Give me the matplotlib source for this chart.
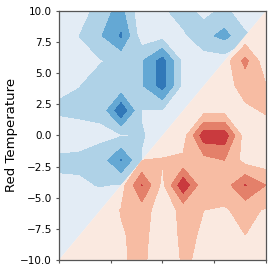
import numpy as np
import matplotlib
matplotlib.use("Agg")
import matplotlib.pyplot as plt
from matplotlib.patches import Polygon

# grid coordinates (same for both axes)
x_vals = [-10, -8, -6, -4, -2, 0, 2, 4, 6, 8, 10]
y_vals = [-10, -8, -6, -4, -2, 0, 2, 4, 6, 8, 10]

# blue field, rows listed from y=10 down to y=-10
blue_rows = [
    [0.3, 0.3, 1.6, 2.3, 0.2, 0.8, 1.5, 0.6, 1.3, 0.2, 0.2],
    [0.3, 1.02, 1.9, 3.1, 0.4, 0.6, 0.8, 1.7, 2.3, 1.2, 0.3],
    [0.2, 0.5, 0.95, 1.2, 1.9, 3.4, 0.7, 0.5, 0.5, 0.3, 0.3],
    [0.8, 0.98, 1.3, 1.2, 1.9, 3.4, 0.7, 0.3, 0.3, 0.3, 0.3],
    [1.15, 1.2, 1.2, 3.8, 0.95, 0.9, 0.3, 0.3, 0.3, 0.3, 0.3],
    [0.4, 0.6, 0.8, 0.9, 1.05, 0.7, 0.3, 0.3, 0.3, 0.3, 0.3],
    [1.2, 1.2, 1.4, 3.05, 0.95, 0.3, 0.3, 0.3, 0.3, 0.3, 0.3],
    [0.8, 0.85, 1.05, 0.9, 0.3, 0.3, 0.3, 0.3, 0.3, 0.3, 0.3],
    [0.3, 0.3, 0.3, 0.3, 0.3, 0.3, 0.3, 0.3, 0.3, 0.3, 0.3],
    [0.3, 0.3, 0.3, 0.3, 0.3, 0.3, 0.3, 0.3, 0.3, 0.3, 0.3],
    [0.3, 0.3, 0.3, 0.3, 0.3, 0.3, 0.3, 0.3, 0.3, 0.3, 0.3],
]

# red field, rows listed from y=10 down to y=-10
red_rows = [
    [0.3, 0.3, 0.3, 0.3, 0.3, 0.3, 0.3, 0.3, 0.3, 0.3, 0.3],
    [0.3, 0.3, 0.3, 0.3, 0.3, 0.3, 0.3, 0.3, 0.3, 0.3, 0.5],
    [0.3, 0.3, 0.3, 0.3, 0.3, 0.3, 0.3, 0.3, 0.5, 2.3, 0.3],
    [0.3, 0.3, 0.3, 0.3, 0.3, 0.3, 0.3, 0.3, 0.6, 1.4, 1.05],
    [0.3, 0.3, 0.3, 0.3, 0.3, 0.3, 0.3, 0.6, 0.6, 0.8, 1.1],
    [0.3, 0.3, 0.3, 0.3, 0.3, 0.5, 0.5, 3.6, 3.6, 0.4, 0.5],
    [0.3, 0.3, 0.3, 0.3, 1.0, 1.05, 1.2, 1.6, 2.0, 0.6, 0.4],
    [0.3, 0.3, 0.3, 0.5, 3.05, 0.7, 3.8, 1.2, 1.5, 3.05, 2.0],
    [0.3, 0.3, 0.3, 1.05, 1.5, 0.4, 1.3, 1.0, 0.9, 1.3, 0.9],
    [0.3, 0.3, 0.3, 0.9, 1.3, 0.4, 1.2, 0.9, 0.5, 1.0, 0.5],
    [0.3, 0.3, 0.4, 0.9, 1.2, 0.4, 1.1, 0.85, 0.5, 0.4, 0.4],
]

levels = [-1, 1, 2, 3, 10]
blue_colors = ['#e3ecf5', '#afd2e7', '#64a8d4', '#3178b8']
red_colors = ['#fae9e0', '#f7bca3', '#e4806a', '#c93a3e']

X, Y = np.meshgrid(x_vals, y_vals)
blue = np.array(blue_rows)[::-1]
red = np.array(red_rows)[::-1]

fig, ax = plt.subplots(figsize=(2.73, 2.73), dpi=100)
fig.subplots_adjust(left=0.216, right=0.974, bottom=0.048, top=0.96)

# each colour field only shows on its own side of the diagonal
upper = Polygon([(-10, -10), (-10, 10), (10, 10)], closed=True,
                transform=ax.transData, facecolor='none', edgecolor='none')
lower = Polygon([(-10, -10), (10, 10), (10, -10)], closed=True,
                transform=ax.transData, facecolor='none', edgecolor='none')
ax.add_patch(upper)
ax.add_patch(lower)

cs_b = ax.contourf(X, Y, blue, levels=levels, colors=blue_colors)
cs_b.set_clip_path(upper)
cs_r = ax.contourf(X, Y, red, levels=levels, colors=red_colors)
cs_r.set_clip_path(lower)

ax.set_xlim(-10, 10)
ax.set_ylim(-10, 10)
ax.set_xticks([-10, -5, 0, 5, 10])
ax.set_xticklabels([])
ax.set_yticks(np.arange(-10, 10.1, 2.5))
ax.tick_params(labelsize=7.5, length=2.5, pad=2.5, color='#555555')
ax.set_ylabel('Red Temperature', fontsize=9.5)
ax.yaxis.set_label_coords(-0.2, 0.5)
for s in ax.spines.values():
    s.set_color('#555555')
    s.set_linewidth(0.9)

fig.savefig('out.png', dpi=100)
